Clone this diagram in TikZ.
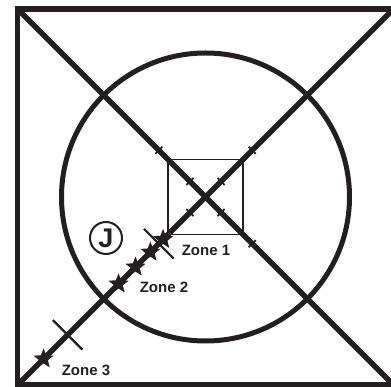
\documentclass[tikz,border=0pt]{standalone}
\usepackage{fontspec}
\setmainfont{Liberation Sans}
\usetikzlibrary{shapes, positioning, calc}
\definecolor{ink}{HTML}{231F20}

\begin{document}
\begin{tikzpicture}[x=1pt, y=-1pt,
    heavy/.style={draw=ink, line width=5.5pt},
    tick/.style={draw=ink, line width=1.8pt},
    cut/.style={draw=ink, line width=2.2pt},
    marker/.style={star, star points=5, star point ratio=2.3, fill=ink, minimum size=21pt, inner sep=0pt},
    zone/.style={font=\bfseries\fontsize{15}{18}\selectfont, text=ink}]
    \useasboundingbox (0,0) rectangle (391,387);
    \clip (0,0) rectangle (391,387);
    % frame and diagonals
    \coordinate (tl) at (17.5,9);
    \coordinate (tr) at (393.5,9);
    \coordinate (bl) at (17.5,385);
    \coordinate (br) at (393.5,385);
    \coordinate (c) at (205.5,197);
    \draw[heavy] (tl) rectangle (br);
    \draw[heavy] (tl) -- (br);
    \draw[heavy] (tr) -- (bl);
    \node (ring) [circle, heavy, line width=5pt, minimum size=288pt, inner sep=0pt] at (c) {};
    \node (box) [draw=ink, line width=1.5pt, minimum size=75pt, inner sep=0pt] at (c) {};
    % small ticks
    \foreach \a/\d in {45/22, 45/66, -45/22, -45/66, 135/22, -135/22, -135/66} {
        \draw[tick] ($(c)+(\a:\d)+(\a+90:5)$) -- ($(c)+(\a:\d)+(\a-90:5)$);
    }
    % zone limits
    \foreach \d [count=\i] in {66, 195} {
        \coordinate (lim\i a) at ($(c)+(135:\d)+(225:21)$);
        \coordinate (lim\i b) at ($(c)+(135:\d)+(45:21)$);
        \draw[cut] (lim\i a) -- (lim\i b);
    }
    % stars
    \foreach \d [count=\i] in {60, 78, 99, 123, 229} {
        \node (star\i) [marker] at ($(c)+(135:\d)$) {};
    }
    \node (jmark) [draw=ink, circle, line width=2pt, minimum size=32pt, inner sep=0pt,
        font=\bfseries\fontsize{27}{27}\selectfont, text=ink] at (106,238) {J};
    \node (zone1) [zone] at (206,250) {Zone 1};
    \node (zone2) [zone] at (164,287) {Zone 2};
    \node (zone3) [zone] at (86,370) {Zone 3};
\end{tikzpicture}
\end{document}
